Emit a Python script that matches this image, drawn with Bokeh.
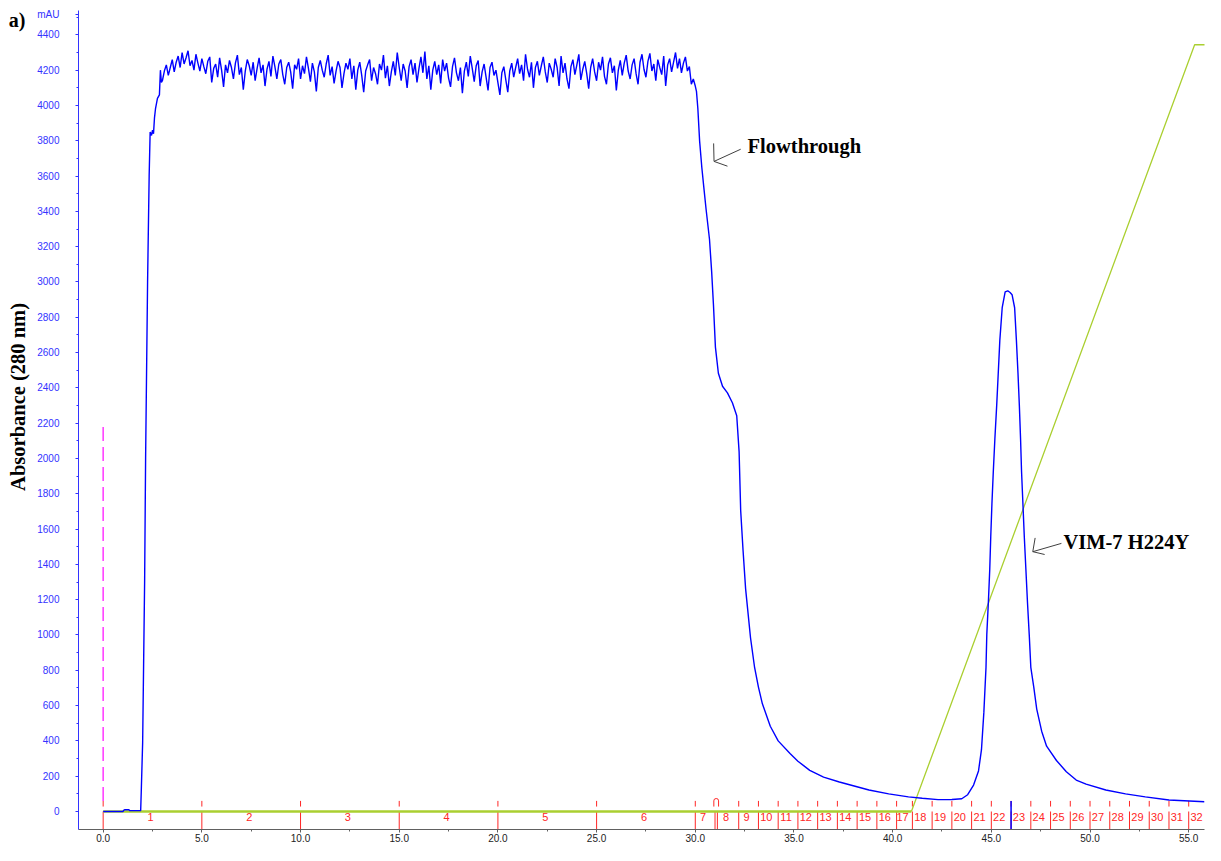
from math import pi
from bokeh.plotting import figure
from bokeh.models import Range1d, FixedTicker, PrintfTickFormatter, Label, LinearAxis
from bokeh.embed import file_html
from bokeh.resources import INLINE

# ---------------- data ----------------
# UV 280 nm trace: injection / rise
uv_rise_x = [0.0, 1.0, 1.05, 1.1, 1.3, 1.35, 1.9, 1.93, 2.0, 2.05, 2.1, 2.15, 2.25,
             2.33, 2.38, 2.45, 2.5, 2.55, 2.6, 2.65, 2.75, 2.85, 2.9, 2.95]
uv_rise_y = [0, 0, 8, 10, 10, 5, 5, 113, 390, 844, 1300, 2000, 3000,
             3600, 3850, 3830, 3860, 3840, 3930, 3980, 4040, 4060, 4200, 4130]

# flow-through plateau, sampled every 0.1 min from 3.0 min
plateau_t0 = 3.0
plateau_dt = 0.1
plateau_y = [
    4140, 4195, 4230, 4170, 4215, 4260, 4190, 4245, 4280, 4215,
    4300, 4235, 4270, 4310, 4225, 4255, 4200, 4290, 4240, 4195,
    4265, 4220, 4180, 4250, 4275, 4130, 4210, 4235, 4160, 4270,
    4200, 4105, 4230, 4185, 4255, 4215, 4150, 4240, 4285, 4175,
    4215, 4090, 4195, 4260, 4225, 4170, 4245, 4140, 4210, 4270,
    4185, 4230, 4110, 4205, 4250, 4165, 4280, 4220, 4150, 4235,
    4260, 4175, 4120, 4215, 4245, 4190, 4095, 4230, 4205, 4265,
    4150, 4225, 4180, 4275, 4210, 4135, 4240, 4190, 4080, 4215,
    4255, 4200, 4160, 4235, 4285, 4170, 4220, 4125, 4195, 4250,
    4215, 4100, 4180, 4240, 4205, 4265, 4150, 4225, 4090, 4200,
    4245, 4170, 4075, 4195, 4230, 4260, 4140, 4215, 4180, 4120,
    4235, 4200, 4285, 4155, 4225, 4110, 4190, 4250, 4170, 4300,
    4215, 4140, 4235, 4195, 4100, 4220, 4260, 4175, 4240, 4130,
    4210, 4275, 4185, 4305, 4150, 4225, 4090, 4200, 4250, 4175,
    4230, 4125, 4260, 4195, 4240, 4155, 4105, 4220, 4270, 4185,
    4140, 4215, 4070, 4195, 4245, 4165, 4280, 4210, 4135, 4225,
    4255, 4110, 4190, 4235, 4160, 4085, 4215, 4245, 4170, 4200,
    4130, 4060, 4185, 4220, 4145, 4075, 4195, 4240, 4160, 4215,
    4265, 4180, 4230, 4140, 4290, 4205, 4160, 4245, 4100, 4215,
    4250, 4170, 4225, 4275, 4190, 4130, 4240, 4205, 4160, 4265,
    4215, 4110, 4280, 4185, 4240, 4150, 4095, 4220, 4260, 4175,
    4230, 4290, 4145, 4205, 4250, 4180, 4095, 4215, 4265, 4190,
    4140, 4245, 4200, 4275, 4165, 4120, 4235, 4270, 4185, 4225,
    4085, 4200, 4255, 4170, 4240, 4285, 4195, 4150, 4230, 4265,
    4180, 4120, 4245, 4290, 4205, 4160, 4250, 4295, 4195, 4235,
    4140, 4260, 4215, 4175, 4280, 4110, 4230, 4265, 4190, 4245,
    4300, 4210, 4265, 4185, 4240, 4275, 4195, 4220, 4120, 4150,
]

# wash-out and elution peak
uv_tail_x = [30.0, 30.06, 30.13, 30.22, 30.33, 30.43, 30.55, 30.72, 30.83, 30.92,
             31.02, 31.17, 31.38, 31.63, 31.88, 32.1, 32.22, 32.3, 32.42, 32.55,
             32.8, 33.0, 33.2, 33.4, 33.8, 34.2, 34.8, 35.2, 35.8, 36.5, 37.3,
             38.8, 39.8, 40.8, 41.5, 42.3, 43.0, 43.5, 43.8, 44.1, 44.35, 44.5,
             44.62, 44.73, 44.77, 44.85, 44.92, 44.97, 45.03, 45.1, 45.18, 45.27,
             45.35, 45.43, 45.55, 45.7, 45.83, 45.95, 46.05, 46.18, 46.27, 46.35,
             46.42, 46.48, 46.53, 46.6, 46.67, 46.75, 46.83, 46.92, 47.0, 47.15,
             47.3, 47.55, 47.8, 48.3, 48.8, 49.3, 49.8, 50.8, 51.8, 52.8, 54.0, 55.8]
uv_tail_y = [4110, 4080, 3983, 3798, 3650, 3539, 3409, 3242, 3057, 2872,
             2631, 2483, 2409, 2372, 2316, 2242, 2039, 1705, 1480, 1261,
             983, 820, 705, 610, 483, 400, 328, 285, 233, 195, 167,
             122, 100, 83, 75, 67, 68, 72, 95, 150, 230, 350,
             560, 817, 1002, 1187, 1372, 1557, 1743, 1928, 2113, 2298,
             2483, 2669, 2854, 2944, 2950, 2940, 2928, 2854, 2669, 2483,
             2298, 2113, 1928, 1743, 1557, 1372, 1187, 1002, 817, 705,
             580, 455, 370, 289, 225, 178, 155, 122, 100, 83, 65, 55]

# salt gradient trace, same mAU scale
grad_x = [0.0, 40.95, 55.3, 56.0]
grad_y = [0, 0, 4344, 4344]

# fractions
frac_names = [str(i) for i in range(1, 33)]
frac_start = [0, 5, 10, 15, 20, 25, 30.0, 31.12, 32.2, 33.2, 34.2, 35.2, 36.2, 37.2,
              38.2, 39.2, 40.2, 41, 42, 43, 44, 45, 46, 47, 48, 49, 50, 51, 52, 53, 54, 55]
frac_end = [5, 10, 15, 20, 25, 30.0, 31.0, 32.2, 33.2, 34.2, 35.2, 36.2, 37.2, 38.2,
            39.2, 40.2, 41, 42, 43, 44, 45, 46, 47, 48, 49, 50, 51, 52, 53, 54, 55, 56]
inject_x = 0.0
inject_top = 2200
peak_mark_x = 46.0

x_ticks = [0, 5, 10, 15, 20, 25, 30, 35, 40, 45, 50, 55]
x_minor = [2.5, 7.5, 12.5, 17.5, 22.5, 27.5, 32.5, 37.5, 42.5, 47.5, 52.5]
y_ticks = list(range(0, 4401, 200))
y_minor = list(range(100, 4501, 200))
unit_label_y = 4517
panel_label_y = 4483
y_title = "Absorbance (280 nm)"

# ---------------- figure ----------------
uv_x = uv_rise_x + [round(plateau_t0 + plateau_dt * i, 2) for i in range(len(plateau_y))] + uv_tail_x
uv_y = uv_rise_y + plateau_y + uv_tail_y

Y0 = -102
p = figure(width=1205, height=845, x_range=Range1d(-1.25, 55.8), y_range=Range1d(Y0, 4538),
           output_backend="svg", toolbar_location=None,
           min_border_left=78, min_border_right=1, min_border_top=10, min_border_bottom=16)
p.background_fill_color = "white"
p.border_fill_color = "white"
p.outline_line_color = None
p.grid.visible = False

RED = "#ff2626"
BLUE = "#0000ff"
GREEN = "#aacf30"

# fraction marks
marks = sorted(set(frac_start + frac_end))
arch_pair = [m for m in marks if 30.5 < m < 31.5]
arch_c = sum(arch_pair) / len(arch_pair)
upper = [m for m in marks if m not in arch_pair]
p.segment(x0=marks, y0=[Y0] * len(marks), x1=marks, y1=[0] * len(marks), line_color=RED, line_width=1)
p.segment(x0=upper, y0=[28] * len(upper), x1=upper, y1=[60] * len(upper), line_color=RED, line_width=1)
# injection arch marker
p.segment(x0=[arch_c - 0.12, arch_c + 0.12], y0=[28, 28], x1=[arch_c - 0.12, arch_c + 0.12],
          y1=[60, 60], line_color=RED, line_width=1)
p.arc(x=[arch_c], y=[60], radius=2.4, radius_units="screen", start_angle=0, end_angle=pi,
      line_color=RED, line_width=1)
lab_x = [(a + b) / 2 - 0.1 for a, b in zip(frac_start, frac_end)]
p.text(x=lab_x, y=[-33] * len(lab_x), text=frac_names, text_color=RED,
       text_font_size="11px", text_align="center", text_baseline="middle",
       text_font={"value": "Liberation Sans"})

# injection mark
p.segment(x0=[inject_x], y0=[60], x1=[inject_x], y1=[inject_top], line_color="#ff44ff",
          line_width=1.6, line_dash="14 6")

# gradient
p.line(grad_x[:2], grad_y[:2], line_color=GREEN, line_width=2.5)
p.line(grad_x[1:], grad_y[1:], line_color=GREEN, line_width=1.3)

# peak marker
p.segment(x0=[peak_mark_x], y0=[Y0], x1=[peak_mark_x], y1=[60], line_color=BLUE, line_width=1.5)

# UV trace
p.line(uv_x, uv_y, line_color=BLUE, line_width=1.4)

# arrows + annotations
ARW = "#404040"
p.multi_line(xs=[[32.3, 30.95], [30.93, 30.95, 31.63]], ys=[[3752, 3683], [3785, 3683, 3656]],
             line_color=ARW, line_width=1)
p.multi_line(xs=[[48.55, 47.1], [47.22, 47.1, 47.7]], ys=[[1519, 1472], [1550, 1472, 1456]],
             line_color=ARW, line_width=1)
p.add_layout(Label(x=32.65, y=3772, text="Flowthrough", text_font="Liberation Serif",
                   text_font_style="bold", text_font_size="20.5px", text_color="black",
                   text_align="left", text_baseline="middle"))
p.add_layout(Label(x=48.65, y=1525, text="VIM-7 H224Y", text_font="Liberation Serif",
                   text_font_style="bold", text_font_size="20.5px", text_color="black",
                   text_align="left", text_baseline="middle"))

# axes
p.xaxis.ticker = FixedTicker(ticks=x_ticks, minor_ticks=x_minor)
p.xaxis.formatter = PrintfTickFormatter(format="%.1f")
p.xaxis.axis_line_color = "#606060"
p.xaxis.major_tick_line_color = "#606060"
p.xaxis.minor_tick_line_color = "#606060"
p.xaxis.major_tick_in = 0
p.xaxis.major_tick_out = 3
p.xaxis.minor_tick_in = 0
p.xaxis.minor_tick_out = 2
p.xaxis.major_label_standoff = 1
p.xaxis.major_label_text_font = "Liberation Sans"
p.xaxis.major_label_text_font_size = "10px"
p.xaxis.major_label_text_color = "#222222"

p.yaxis.ticker = FixedTicker(ticks=y_ticks + [unit_label_y], minor_ticks=y_minor)
p.yaxis.major_label_overrides = {unit_label_y: "mAU"}
p.yaxis.axis_line_color = "#3333ff"
p.yaxis.major_tick_line_color = "#3333ff"
p.yaxis.minor_tick_line_color = "#3333ff"
p.yaxis.major_tick_in = 0
p.yaxis.major_tick_out = 3
p.yaxis.minor_tick_in = 0
p.yaxis.minor_tick_out = 2
p.yaxis.major_label_standoff = 16
p.yaxis.major_label_text_font = "Liberation Sans"
p.yaxis.major_label_text_font_size = "10px"
p.yaxis.major_label_text_color = "#3333ff"

# outer left axis carrying the panel tag "a)" and the axis title
# (leading no-break spaces lift the centred title to where the original sits)
ax2 = LinearAxis(ticker=FixedTicker(ticks=[panel_label_y]),
                 major_label_overrides={panel_label_y: "a)"},
                 axis_label="\u00a0" * 9 + y_title)
ax2.axis_line_color = None
ax2.major_tick_line_color = None
ax2.minor_tick_line_color = None
ax2.major_tick_out = 0
ax2.major_tick_in = 0
ax2.major_label_standoff = 9
ax2.major_label_text_font = "Liberation Serif"
ax2.major_label_text_font_style = "bold"
ax2.major_label_text_font_size = "20px"
ax2.major_label_text_color = "black"
ax2.axis_label_standoff = -23
ax2.axis_label_text_font = "Liberation Serif"
ax2.axis_label_text_font_style = "bold"
ax2.axis_label_text_font_size = "20.5px"
ax2.axis_label_text_color = "black"
p.add_layout(ax2, "left")

open("out.html", "w").write(file_html(p, INLINE))
